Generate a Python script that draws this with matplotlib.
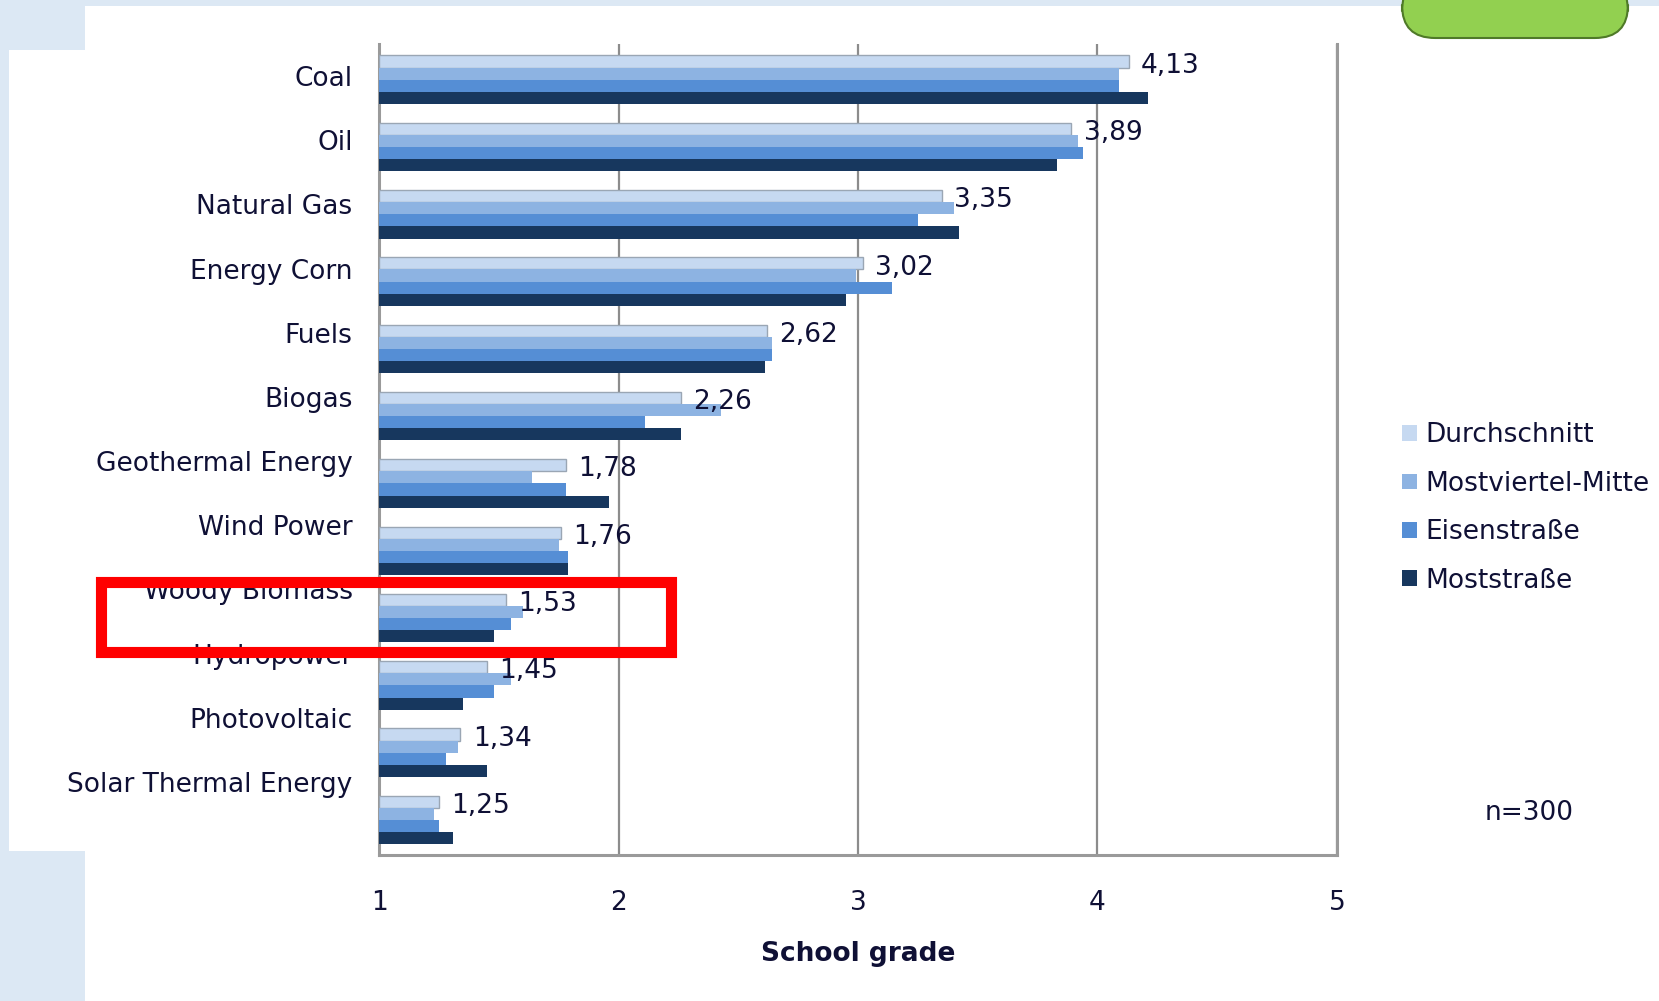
import matplotlib
matplotlib.use('Agg')
from matplotlib import pyplot as plt
from matplotlib.patches import Rectangle, FancyBboxPatch, Patch

# data (school grades, 1 = best)
categories = ['Coal', 'Oil', 'Natural Gas', 'Energy Corn', 'Fuels', 'Biogas',
              'Geothermal Energy', 'Wind Power', 'Woody Biomass', 'Hydropower',
              'Photovoltaic', 'Solar Thermal Energy']
durchschnitt = [4.13, 3.89, 3.35, 3.02, 2.62, 2.26, 1.78, 1.76, 1.53, 1.45, 1.34, 1.25]
mostviertel = [4.09, 3.92, 3.40, 2.99, 2.64, 2.43, 1.64, 1.75, 1.60, 1.55, 1.33, 1.23]
eisenstrasse = [4.09, 3.94, 3.25, 3.14, 2.64, 2.11, 1.78, 1.79, 1.55, 1.48, 1.28, 1.25]
moststrasse = [4.21, 3.83, 3.42, 2.95, 2.61, 2.26, 1.96, 1.79, 1.48, 1.35, 1.45, 1.31]
series_names = ['Durchschnitt', 'Mostviertel-Mitte', 'Eisenstraße', 'Moststraße']
series_colors = ['#C6D9F1', '#8DB3E2', '#558ED5', '#17375E']
x_ticks = [1, 2, 3, 4, 5]

txt = '#0F1035'
W, H = 1659, 1001

fig = plt.figure(figsize=(W / 100, H / 100), dpi=100)
fig.patch.set_facecolor('#DCE8F4')

# white slide panels (behind the axes)
fig.patches.append(Rectangle((85 / W, 0), 1 - 85 / W, 1 - 6 / H, transform=fig.transFigure,
                             facecolor='white', edgecolor='none', zorder=-2))
fig.patches.append(Rectangle((9 / W, 1 - 851 / H), 76 / W, 801 / H, transform=fig.transFigure,
                             facecolor='white', edgecolor='none', zorder=-2))
# green tab top right
fig.patches.append(FancyBboxPatch((1402 / W, 1 - 38 / H), 226 / W, 60 / H,
                                  boxstyle='round,pad=0,rounding_size=0.02',
                                  transform=fig.transFigure, facecolor='#92D050',
                                  edgecolor='#4F7A28', linewidth=1.5, zorder=1,
                                  mutation_aspect=W / H))

ax = fig.add_axes([379 / W, 1 - 855 / H, 958 / W, 811 / H])
ax.set_facecolor('none')

y = list(range(len(categories)))
bh = 0.18
offsets = [-0.27, -0.09, 0.09, 0.27]
all_series = [durchschnitt, mostviertel, eisenstrasse, moststrasse]
for k, (vals, off, col, name) in enumerate(zip(all_series, offsets, series_colors, series_names)):
    ax.barh([i + off for i in y], [v - 1 for v in vals], left=1, height=bh,
            color=col, edgecolor='#9AA6B4' if k == 0 else 'none', linewidth=1,
            label=name, zorder=3)

# value labels (average)
for i, v in enumerate(durchschnitt):
    ax.annotate(f'{v:.2f}'.replace('.', ','), xy=(v, i - 0.27), xytext=(9, -3),
                textcoords='offset points', va='center', ha='left',
                fontsize=19, color=txt, zorder=5)

ax.set_xlim(1, 5)
ax.set_ylim(11.52, -0.53)
ax.set_xticks(x_ticks)
ax.set_xticklabels([str(t) for t in x_ticks], fontsize=19, color=txt)
ax.tick_params(axis='x', length=0, pad=25)
ax.set_yticks([])
ax.grid(axis='x', color='#8C8C8C', linewidth=1.6, zorder=1)
ax.set_axisbelow(True)
for s in ['left', 'bottom', 'right']:
    ax.spines[s].set_color('#9A9A9A')
    ax.spines[s].set_linewidth(2.2)
ax.spines['top'].set_visible(False)
ax.set_xlabel('School grade', fontsize=19, fontweight='bold', color=txt, labelpad=18)

# category labels sit on their own slightly tighter spacing (3D look)
lab = fig.add_axes([379 / W, 1 - 814 / H, 958 / W, 770 / H])
lab.set_facecolor('none')
lab.set_ylim(11.5, -0.5)
lab.set_yticks(y)
lab.set_yticklabels(categories, fontsize=19, color=txt)
lab.tick_params(axis='y', length=0, pad=19)
lab.set_xticks([])
for s in lab.spines.values():
    s.set_visible(False)

handles = [Patch(facecolor=c, edgecolor='none') for c in series_colors]
fig.legend(handles, series_names, loc='center left', bbox_to_anchor=(1402 / W, 1 - 508 / H),
           frameon=False, fontsize=19, labelcolor=txt, handlelength=0.55, handleheight=0.55,
           handletextpad=0.35, labelspacing=0.85, borderpad=0, borderaxespad=0)

fig.text(1529 / W, 1 - 813 / H, 'n=300', ha='center', va='center', fontsize=19, color=txt)

# red highlight box
fig.patches.append(Rectangle((101 / W, 1 - 652 / H), 570 / W, 70 / H, transform=fig.transFigure,
                             facecolor='none', edgecolor='#FF0000', linewidth=8, zorder=10))

plt.savefig('out.png', dpi=100, facecolor=fig.get_facecolor())
